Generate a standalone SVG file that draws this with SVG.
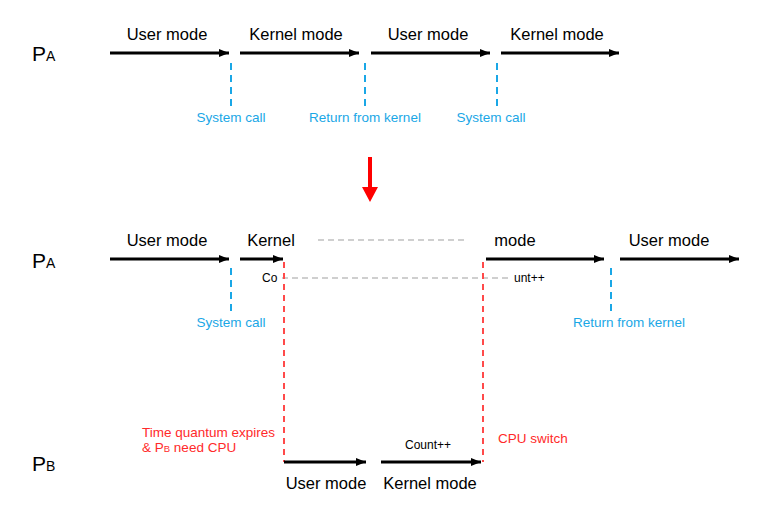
<svg xmlns="http://www.w3.org/2000/svg" width="765" height="505" viewBox="0 0 765 505">
<defs>
<marker id="ah" viewBox="0 0 10 8" refX="10" refY="4" markerWidth="10" markerHeight="8" markerUnits="userSpaceOnUse" orient="auto">
<path d="M0,0 L10,4 L0,8 Z" fill="#000"/>
</marker>
</defs>
<style>
.t{font-family:"Liberation Sans","Noto Sans",sans-serif;fill:#000}
.m{font-size:16.5px;text-anchor:middle}
.p{font-size:21px}
.s{font-size:14px}
.b{font-family:"Liberation Sans","Noto Sans",sans-serif;font-size:13.5px;fill:#1aa7e6;text-anchor:middle}
.r{font-family:"Liberation Sans","Noto Sans",sans-serif;font-size:13.5px;fill:#ff2a2a}
.c{font-size:12px}
.arr{stroke:#000;stroke-width:3;fill:none;marker-end:url(#ah)}
.bd{stroke:#1aa7e6;stroke-width:2;stroke-dasharray:7,5;fill:none}
.rd{stroke:#ff4a4a;stroke-width:2;stroke-dasharray:6,5;fill:none}
.gd{stroke:#a0a0a0;stroke-width:1.2;stroke-dasharray:6,4;fill:none}
</style>
<rect width="765" height="505" fill="#fff"/>

<g id="labels-processes">
<text class="t p" x="32" y="61">P<tspan class="s">A</tspan></text>
<text class="t p" x="32" y="268">P<tspan class="s">A</tspan></text>
<text class="t p" x="32" y="471">P<tspan class="s">B</tspan></text>
</g>

<g id="connectors">
<line class="arr" x1="110" y1="53" x2="229" y2="53"/>
<line class="arr" x1="240" y1="53" x2="359" y2="53"/>
<line class="arr" x1="371" y1="53" x2="490" y2="53"/>
<line class="arr" x1="501" y1="53" x2="619" y2="53"/>
<line class="bd" x1="231" y1="63" x2="231" y2="106"/>
<line class="bd" x1="365" y1="63" x2="365" y2="106"/>
<line class="bd" x1="497" y1="63" x2="497" y2="106"/>
<path d="M368,157 H372 V187 H378 L370,202 L362,187 H368 Z" fill="#ff0000"/>
<line class="arr" x1="110" y1="259" x2="229" y2="259"/>
<line class="arr" x1="240" y1="259" x2="283" y2="259"/>
<line class="arr" x1="486" y1="259" x2="604" y2="259"/>
<line class="arr" x1="620" y1="259" x2="739" y2="259"/>
<line class="gd" x1="318" y1="240" x2="467" y2="240"/>
<line class="gd" x1="282" y1="278" x2="508" y2="278"/>
<line class="bd" x1="231" y1="268" x2="231" y2="311"/>
<line class="bd" x1="611" y1="268" x2="611" y2="311"/>
<line class="rd" x1="284" y1="262" x2="284" y2="462"/>
<line class="rd" x1="483" y1="262" x2="483" y2="462"/>
<line class="arr" x1="284" y1="462" x2="366" y2="462"/>
<line class="arr" x1="381" y1="462" x2="481" y2="462"/>
</g>

<g id="top-row">
<text class="t m" x="167" y="40">User mode</text>
<text class="t m" x="296" y="40">Kernel mode</text>
<text class="t m" x="428" y="40">User mode</text>
<text class="t m" x="557" y="40">Kernel mode</text>
<text class="b" x="231" y="122">System call</text>
<text class="b" x="365" y="122">Return from kernel</text>
<text class="b" x="491" y="122">System call</text>
</g>

<g id="bottom-pa-row">
<text class="t m" x="167" y="246">User mode</text>
<text class="t m" x="271" y="246">Kernel</text>
<text class="t m" x="515" y="246">mode</text>
<text class="t m" x="669" y="246">User mode</text>
<text class="t c" x="262" y="282">Co</text>
<text class="t c" x="514" y="282">unt++</text>
<text class="b" x="231" y="327">System call</text>
<text class="b" x="629" y="327">Return from kernel</text>
</g>

<g id="pb-row">
<text class="t m" x="326" y="489">User mode</text>
<text class="t m" x="430" y="489">Kernel mode</text>
<text class="t c" x="428" y="449" text-anchor="middle">Count++</text>
<text class="r" x="142" y="437">Time quantum expires</text>
<text class="r" x="142" y="452">&amp; P<tspan font-size="9.5px">B</tspan> need CPU</text>
<text class="r" x="498" y="443">CPU switch</text>
</g>
</svg>
